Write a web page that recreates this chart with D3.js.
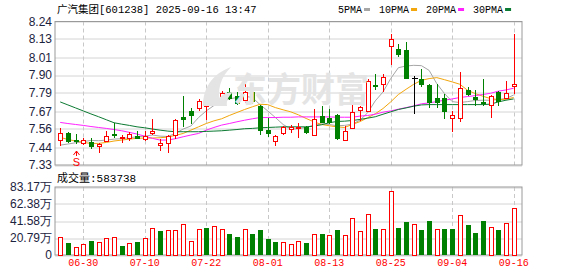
<!DOCTYPE html>
<html>
<head>
<meta charset="utf-8">
<script src="https://cdnjs.cloudflare.com/ajax/libs/d3/7.8.5/d3.min.js"></script>
<style>
  body { margin: 0; background: #fff; }
  text { font-family: "Liberation Sans", Arial, sans-serif; }
  .mono { font-family: "Liberation Mono", "Noto Sans CJK SC", monospace; }
</style>
</head>
<body>
<div id="kline"></div>
<script>

var stockName = "广汽集团[601238] 2025-09-16 13:47";

var dates = ["06-25","06-26","06-27","06-30","07-01","07-02","07-03","07-04","07-07","07-08",
  "07-09","07-10","07-11","07-14","07-15","07-16","07-17","07-18","07-21","07-22",
  "07-23","07-24","07-25","07-28","07-29","07-30","07-31","08-01","08-04","08-05",
  "08-06","08-07","08-08","08-11","08-12","08-13","08-14","08-15","08-18","08-19",
  "08-20","08-21","08-22","08-25","08-26","08-27","08-28","08-29","09-01","09-02",
  "09-03","09-04","09-05","09-08","09-09","09-10","09-11","09-12","09-15","09-16"];

var openP = [7.492, 7.536, 7.492, 7.473, 7.482, 7.456, 7.484, 7.529, 7.503, 7.507,
  7.518, 7.501, 7.534, 7.461, 7.473, 7.526, 7.640, 7.678, 7.694, 7.709,
  7.728, 7.741, 7.798, 7.772, 7.745, 7.798, 7.709, 7.557, 7.484, 7.534,
  7.560, 7.570, 7.576, 7.524, 7.644, 7.629, 7.652, 7.492, 7.568, 7.682,
  7.678, 7.842, 7.850, 8.088, 8.067, 8.061, 7.882, 7.878, 7.842, 7.758,
  7.758, 7.631, 7.631, 7.808, 7.762, 7.730, 7.713, 7.793, 7.758, 7.833];
var highP = [7.568, 7.540, 7.530, 7.503, 7.503, 7.471, 7.547, 7.600, 7.526, 7.541,
  7.547, 7.547, 7.623, 7.499, 7.526, 7.625, 7.772, 7.692, 7.751, 7.745,
  7.798, 7.804, 7.821, 7.793, 7.850, 7.850, 7.713, 7.629, 7.522, 7.583,
  7.589, 7.600, 7.580, 7.688, 7.705, 7.688, 7.656, 7.583, 7.745, 7.709,
  7.878, 7.909, 7.909, 8.166, 8.099, 8.114, 7.899, 7.941, 7.846, 7.846,
  7.783, 7.678, 7.920, 7.829, 7.810, 7.878, 7.777, 7.800, 7.867, 8.166];
var lowP = [7.456, 7.471, 7.467, 7.461, 7.433, 7.408, 7.478, 7.503, 7.471, 7.484,
  7.501, 7.484, 7.526, 7.421, 7.408, 7.499, 7.577, 7.593, 7.673, 7.621,
  7.713, 7.730, 7.745, 7.713, 7.726, 7.720, 7.526, 7.509, 7.456, 7.524,
  7.534, 7.505, 7.530, 7.524, 7.604, 7.593, 7.492, 7.484, 7.562, 7.614,
  7.678, 7.810, 7.793, 7.966, 8.015, 7.882, 7.657, 7.829, 7.692, 7.694,
  7.625, 7.541, 7.604, 7.768, 7.705, 7.709, 7.629, 7.705, 7.751, 7.783];
var closeP = [7.536, 7.488, 7.488, 7.490, 7.456, 7.467, 7.520, 7.523, 7.513, 7.528,
  7.505, 7.518, 7.549, 7.473, 7.520, 7.621, 7.623, 7.650, 7.741, 7.728,
  7.728, 7.789, 7.758, 7.726, 7.795, 7.741, 7.555, 7.539, 7.518, 7.572,
  7.572, 7.576, 7.541, 7.625, 7.606, 7.606, 7.503, 7.551, 7.667, 7.701,
  7.867, 7.831, 7.892, 8.130, 8.040, 7.882, 7.882, 7.850, 7.730, 7.730,
  7.673, 7.650, 7.821, 7.783, 7.749, 7.724, 7.770, 7.741, 7.787, 7.848];

// volume in 万 (10k)
var volume = [23.2, 14.7, 11.0, 13.5, 18.3, 16.7, 22.0, 23.2, 12.2, 14.7,
  17.1, 20.8, 34.2, 29.4, 31.8, 30.6, 38.7, 18.3, 33.0, 34.2,
  35.5, 32.6, 26.9, 23.2, 32.6, 25.7, 31.8, 19.6, 17.1, 16.7,
  14.3, 17.9, 15.9, 26.5, 25.7, 25.3, 31.8, 25.3, 46.1, 30.2,
  51.0, 33.0, 33.0, 78.3, 34.2, 40.4, 38.7, 30.6, 42.8, 32.6,
  33.0, 33.0, 49.7, 37.9, 28.1, 41.6, 35.1, 30.6, 40.0, 58.3738];

var ma5 = [7.456, 7.463, 7.471, 7.478, 7.486, 7.484, 7.488, 7.494, 7.497, 7.503,
  7.509, 7.513, 7.520, 7.513, 7.511, 7.530, 7.558, 7.577, 7.631, 7.673,
  7.707, 7.730, 7.749, 7.758, 7.766, 7.758, 7.713, 7.673, 7.631, 7.587,
  7.558, 7.560, 7.568, 7.581, 7.591, 7.587, 7.579, 7.581, 7.589, 7.614,
  7.661, 7.737, 7.793, 7.878, 7.947, 7.958, 7.962, 7.960, 7.930, 7.846,
  7.783, 7.732, 7.726, 7.732, 7.739, 7.741, 7.741, 7.745, 7.751, 7.774];
var ma10 = [7.505, 7.492, 7.482, 7.473, 7.467, 7.467, 7.473, 7.482, 7.488, 7.494,
  7.499, 7.501, 7.501, 7.503, 7.507, 7.518, 7.530, 7.551, 7.572, 7.593,
  7.610, 7.623, 7.644, 7.663, 7.682, 7.699, 7.715, 7.713, 7.694, 7.680,
  7.667, 7.648, 7.625, 7.604, 7.587, 7.579, 7.572, 7.568, 7.587, 7.605,
  7.630, 7.655, 7.688, 7.730, 7.777, 7.810, 7.842, 7.867, 7.878, 7.884,
  7.871, 7.857, 7.842, 7.804, 7.783, 7.766, 7.751, 7.745, 7.747, 7.758];
var ma20 = [7.600, 7.593, 7.587, 7.581, 7.574, 7.568, 7.562, 7.555, 7.547, 7.537,
  7.526, 7.513, 7.499, 7.488, 7.488, 7.497, 7.509, 7.520, 7.530, 7.551,
  7.568, 7.583, 7.593, 7.604, 7.614, 7.623, 7.631, 7.631, 7.631, 7.633,
  7.633, 7.635, 7.635, 7.635, 7.635, 7.635, 7.633, 7.633, 7.633, 7.640,
  7.644, 7.652, 7.665, 7.673, 7.684, 7.694, 7.705, 7.718, 7.724, 7.732,
  7.741, 7.749, 7.758, 7.764, 7.770, 7.777, 7.785, 7.798, 7.806, 7.817];
var ma30 = [7.730, 7.711, 7.692, 7.673, 7.654, 7.636, 7.617, 7.598, 7.589, 7.581,
  7.572, 7.566, 7.558, 7.551, 7.545, 7.541, 7.541, 7.541, 7.541, 7.543,
  7.545, 7.547, 7.551, 7.555, 7.560, 7.562, 7.566, 7.568, 7.570, 7.572,
  7.572, 7.572, 7.572, 7.577, 7.585, 7.598, 7.606, 7.608, 7.612, 7.619,
  7.627, 7.636, 7.652, 7.667, 7.682, 7.692, 7.703, 7.711, 7.713, 7.713,
  7.713, 7.713, 7.713, 7.713, 7.713, 7.713, 7.716, 7.730, 7.741, 7.749];

var priceTicks = [7.33, 7.44, 7.56, 7.67, 7.79, 7.90, 8.01, 8.13, 8.24];
var volTicks = [0, 20.79, 41.58, 62.38, 83.17];
var tickDates = ["06-30","07-10","07-22","08-01","08-13","08-25","09-04","09-16"];

var maNames = ["5PMA", "10PMA", "20PMA", "30PMA"];
var maColors = ["#a6a6a6", "#f2a60c", "#ff22ff", "#0b7a32"];
var signals = [{date: "06-27", label: "S"}];

KlineChart = function(_parentElement){
  this.parentElement = _parentElement;
  this.initVis();
}

KlineChart.prototype.initVis = function(){

  var vis = this;

  vis.margin = {top: 21.5, left: 55};
  vis.width = 467;
  vis.priceH = 143.5;
  vis.volTop = 165.5;
  vis.volH = 68;

  vis.data = dates.map(function(d, i){
    return {date: d, open: openP[i], high: highP[i], low: lowP[i], close: closeP[i],
      vol: volume[i], up: i == 0 ? closeP[i] >= openP[i] : closeP[i] >= closeP[i - 1]};
  });

  vis.root = d3.select("#" + vis.parentElement).append("svg")
    .attr("width", 578)
    .attr("height", 276);

  vis.svg = vis.root.append("g")
    .attr("transform", "translate(" + vis.margin.left + "," + vis.margin.top + ")");

  vis.x = d3.scaleBand().domain(dates).range([1.35, 462.5]);
  vis.y = d3.scaleLinear().domain([7.33, 8.24]).range([vis.priceH, 0]);
  vis.yv = d3.scaleLinear().domain([0, 83.17]).range([vis.volTop + vis.volH, vis.volTop]);

  var cx = function(d){ return Math.round(vis.x(d) + vis.x.bandwidth() / 2) + 0.5; };
  var py = function(v){ return Math.round(vis.y(v)) + 0.5; };

  // watermark
  var wm = vis.root.append("g").attr("fill", "#e4e4e4");
  wm.append("path")
    .attr("d", "M203,106 C203,88 212,74 231,67 C221,77 216,90 221,106 Z M214,106 C218,96 226,92 233,92 C228,97 226,101 227,106 Z");
  wm.append("text")
    .attr("x", 233).attr("y", 102)
    .style("font-family", "'Noto Sans CJK SC', sans-serif")
    .style("font-size", "34px").style("font-weight", "bold")
    .text("东方财富");

  // horizontal grid
  vis.svg.append("g").selectAll("line")
    .data(priceTicks)
    .enter().append("line")
      .attr("x1", 0).attr("x2", vis.width)
      .attr("y1", function(d){ return py(d); })
      .attr("y2", function(d){ return py(d); })
      .attr("stroke", "#d4d4d4");

  vis.svg.append("g").selectAll("line")
    .data(volTicks)
    .enter().append("line")
      .attr("x1", 0).attr("x2", vis.width)
      .attr("y1", function(d){ return Math.round(vis.yv(d)) + 0.5; })
      .attr("y2", function(d){ return Math.round(vis.yv(d)) + 0.5; })
      .attr("stroke", "#d4d4d4");

  // vertical dashed grid in both panes
  [[0, vis.priceH], [vis.volTop, vis.volTop + vis.volH]].forEach(function(r){
    vis.svg.append("g").selectAll("line")
      .data(tickDates)
      .enter().append("line")
        .attr("x1", function(d){ return cx(d); })
        .attr("x2", function(d){ return cx(d); })
        .attr("y1", r[0]).attr("y2", r[1])
        .attr("stroke", "#c8c8c8")
        .attr("stroke-dasharray", "4,3");
  });

  // frames
  vis.svg.append("rect")
    .attr("x", 0).attr("y", 0).attr("width", vis.width).attr("height", vis.priceH)
    .attr("fill", "none").attr("stroke", "#9a9a9a");
  vis.svg.append("rect")
    .attr("x", 0).attr("y", vis.volTop).attr("width", vis.width).attr("height", vis.volH)
    .attr("fill", "none").attr("stroke", "#9a9a9a");

  // y labels
  var yAxis = d3.axisLeft(vis.y).tickValues(priceTicks).tickFormat(d3.format(".2f")).tickSize(0).tickPadding(3);
  var ga = vis.svg.append("g").call(yAxis);
  ga.select(".domain").remove();
  ga.selectAll("text").style("font-size", "12px").attr("fill", "#1c2340");

  var vAxis = d3.axisLeft(vis.yv).tickValues(volTicks)
    .tickFormat(function(d){ return d == 0 ? "0" : d3.format(".2f")(d) + "万"; })
    .tickSize(0).tickPadding(3);
  var gv = vis.svg.append("g").call(vAxis);
  gv.select(".domain").remove();
  gv.selectAll("text").style("font-size", "12px").attr("fill", "#1c2340");

  // date labels
  var xAxis = d3.axisBottom(vis.x).tickValues(tickDates).tickSize(0).tickPadding(4);
  var gx = vis.svg.append("g")
    .attr("transform", "translate(0," + (vis.volTop + vis.volH) + ")")
    .call(xAxis);
  gx.select(".domain").remove();
  gx.selectAll("text").attr("class", "mono").style("font-size", "10px").attr("fill", "#ff0000");

  // moving averages
  [ma5, ma10, ma20, ma30].forEach(function(arr, k){
    var line = d3.line()
      .x(function(d, i){ return vis.x(dates[i]) + vis.x.bandwidth() / 2; })
      .y(function(d){ return vis.y(d); });
    vis.svg.append("path")
      .datum(arr)
      .attr("d", line)
      .attr("fill", "none")
      .attr("stroke", maColors[k])
      .attr("stroke-width", 1);
  });

  // candles
  var candle = vis.svg.append("g").selectAll("g")
    .data(vis.data)
    .enter().append("g")
      .style("shape-rendering", "crispEdges");

  candle.append("line")
    .attr("x1", function(d){ return cx(d.date); })
    .attr("x2", function(d){ return cx(d.date); })
    .attr("y1", function(d){ return py(d.high); })
    .attr("y2", function(d){ return py(d.low); })
    .attr("stroke", function(d){
      return d.close > d.open ? "#ff0000" : d.close < d.open ? "#008000" : "#000";
    });

  candle.each(function(d){
    var g = d3.select(this);
    var c = cx(d.date);
    if (d.close == d.open) {
      g.append("line")
        .attr("x1", c - 3).attr("x2", c + 3)
        .attr("y1", py(d.close)).attr("y2", py(d.close))
        .attr("stroke", "#000");
    } else if (d.close > d.open) {
      var t = py(d.close), b = py(d.open);
      if (b - t < 2) {
        g.append("rect").attr("x", c - 2.5).attr("y", t - 0.5).attr("width", 5).attr("height", Math.max(2, b - t + 1))
          .attr("fill", "#ff0000");
      } else {
        g.append("rect").attr("x", c - 2).attr("y", t).attr("width", 4).attr("height", b - t)
          .attr("fill", "#fff").attr("stroke", "#ff0000");
      }
    } else {
      var t2 = py(d.open), b2 = py(d.close);
      g.append("rect").attr("x", c - 2.5).attr("y", t2 - 0.5).attr("width", 5).attr("height", Math.max(2, b2 - t2 + 1))
        .attr("fill", "#008000");
    }
  });

  // volume bars
  vis.svg.append("g").selectAll("rect")
    .data(vis.data)
    .enter().append("rect")
      .style("shape-rendering", "crispEdges")
      .attr("x", function(d){ return d.up ? cx(d.date) - 2 : cx(d.date) - 2.5; })
      .attr("y", function(d){ return d.up ? Math.round(vis.yv(d.vol)) + 0.5 : Math.round(vis.yv(d.vol)); })
      .attr("width", function(d){ return d.up ? 4 : 5; })
      .attr("height", function(d){ return vis.volTop + vis.volH - Math.round(vis.yv(d.vol)) - (d.up ? 0.5 : 0); })
      .attr("fill", function(d){ return d.up ? "#fff" : "#008000"; })
      .attr("stroke", function(d){ return d.up ? "#ff0000" : "none"; });

  // buy/sell marker
  var sig = vis.svg.append("g").selectAll("g")
    .data(signals)
    .enter().append("g")
      .attr("transform", function(d){ return "translate(" + cx(d.date) + "," + (vis.priceH - 14) + ")"; });
  sig.append("path")
    .attr("d", "M-3,4 L0,0 L3,4 M0,0 L0,5")
    .attr("fill", "none").attr("stroke", "#ff0000");
  sig.append("text")
    .attr("y", 14.5).attr("text-anchor", "middle")
    .style("font-size", "11px").attr("fill", "#ff0000")
    .text(function(d){ return d.label; });

  // title + legend
  vis.root.append("text")
    .attr("class", "mono")
    .attr("x", 57).attr("y", 13)
    .style("font-size", "10.5px").attr("fill", "#000")
    .text(stockName);

  var lx = 338;
  maNames.forEach(function(n, k){
    var t = vis.root.append("text")
      .attr("class", "mono")
      .attr("x", lx).attr("y", 13)
      .style("font-size", "10px").attr("fill", "#000")
      .text(n);
    lx += t.node().getComputedTextLength() + 2;
    vis.root.append("rect")
      .attr("x", lx).attr("y", 8).attr("width", 6).attr("height", 3)
      .attr("fill", maColors[k]);
    lx += 15;
  });

  // volume label
  vis.root.append("text")
    .attr("class", "mono")
    .attr("x", 57).attr("y", 182)
    .style("font-size", "11px").attr("fill", "#000")
    .text("成交量:" + Math.round(volume[volume.length - 1] * 10000));
}

new KlineChart("kline");

</script>
</body>
</html>
